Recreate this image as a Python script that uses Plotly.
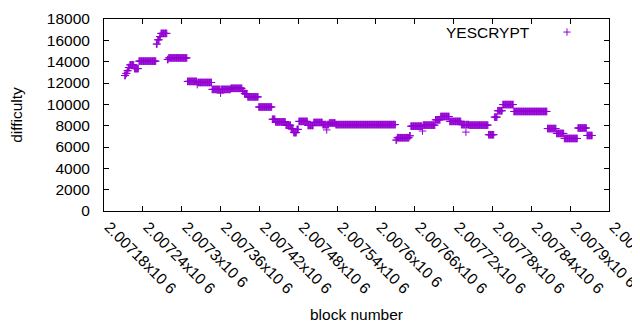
import numpy as np
import plotly.graph_objects as go

# Runs of constant difficulty: (first block, last block, difficulty)
run_start = [2007212, 2007214, 2007216, 2007218, 2007220, 2007227, 2007234, 2007261, 2007263, 2007266,
             2007268, 2007278, 2007280, 2007309, 2007324, 2007325, 2007347, 2007360, 2007361, 2007376,
             2007394, 2007397, 2007402, 2007419, 2007440, 2007445, 2007461, 2007469, 2007473, 2007478,
             2007481, 2007495, 2007504, 2007518, 2007524, 2007525, 2007528, 2007538, 2007631, 2007633,
             2007652, 2007654, 2007672, 2007673, 2007692, 2007700, 2007714, 2007732, 2007739, 2007740,
             2007744, 2007774, 2007783, 2007788, 2007796, 2007813, 2007865, 2007879, 2007891, 2007912,
             2007926]
run_end = [2007213, 2007215, 2007217, 2007219, 2007226, 2007233, 2007260, 2007262, 2007265, 2007267,
           2007277, 2007279, 2007308, 2007323, 2007324, 2007346, 2007359, 2007360, 2007375, 2007393,
           2007396, 2007401, 2007418, 2007439, 2007444, 2007460, 2007468, 2007472, 2007477, 2007480,
           2007494, 2007503, 2007517, 2007523, 2007524, 2007527, 2007537, 2007630, 2007632, 2007651,
           2007653, 2007671, 2007672, 2007691, 2007699, 2007713, 2007731, 2007738, 2007739, 2007743,
           2007773, 2007782, 2007787, 2007795, 2007812, 2007864, 2007878, 2007890, 2007911, 2007925,
           2007934]
run_difficulty = [12700, 12900, 13150, 13450, 13700, 13350, 14050, 15650, 16050, 16350,
                  16650, 14200, 14350, 12150, 11850, 12050, 11400, 11050, 11400, 11500,
                  11250, 11000, 10700, 9750, 8600, 8350, 8050, 7700, 7350, 7650,
                  8400, 8020, 8300, 8100, 7600, 8100, 8250, 8100, 6650, 6870,
                  7050, 7950, 7500, 8050, 8550, 8860, 8400, 8100, 7400, 8100,
                  8050, 7150, 8800, 9400, 9980, 9330, 7730, 7270, 6800, 7780,
                  7080]

x_tick_values = [2007180, 2007240, 2007300, 2007360, 2007420, 2007480, 2007540,
                 2007600, 2007660, 2007720, 2007780, 2007840, 2007900, 2007960]
x_tick_labels = ["2.00718x10 6", "2.00724x10 6", "2.0073x10 6", "2.00736x10 6",
                 "2.00742x10 6", "2.00748x10 6", "2.00754x10 6", "2.0076x10 6",
                 "2.00766x10 6", "2.00772x10 6", "2.00778x10 6", "2.00784x10 6",
                 "2.0079x10 6", "2.00796x10 6"]
y_tick_values = [0, 2000, 4000, 6000, 8000, 10000, 12000, 14000, 16000, 18000]
y_tick_labels = ["0", "2000", "4000", "6000", "8000", "10000", "12000", "14000", "16000", "18000"]
series_name = "YESCRYPT"

blocks, diffs = [], []
for s, e, d in zip(run_start, run_end, run_difficulty):
    for b in range(s, e + 1):
        blocks.append(b)
        diffs.append(d)

COLOR = "#9400D3"
FONT = "Liberation Sans, Arial, sans-serif"
FS = 15.5

fig = go.Figure()
fig.add_trace(go.Scatter(
    x=blocks, y=diffs, mode="markers", name=series_name, showlegend=False,
    marker=dict(symbol="cross-thin", size=5.4, color=COLOR,
                line=dict(color=COLOR, width=1)),
))

# legend (gnuplot style: text then sample)
fig.add_annotation(xref="paper", yref="paper", x=0.8475, y=0.932, text=series_name,
                   showarrow=False, xanchor="right", yanchor="middle",
                   font=dict(family=FONT, size=FS, color="black"))
cx, cy = 0.9168, 0.932
fig.add_shape(type="line", xref="paper", yref="paper", x0=cx - 0.0072, x1=cx + 0.0072,
              y0=cy, y1=cy, line=dict(color=COLOR, width=1))
fig.add_shape(type="line", xref="paper", yref="paper", x0=cx, x1=cx,
              y0=cy - 0.019, y1=cy + 0.019, line=dict(color=COLOR, width=1))

# page body has an 8px margin: figure is offset by 8px, so size/margins are adjusted
fig.update_layout(
    width=632, height=322,
    margin=dict(l=96, r=31, t=11, b=119, autoexpand=False),
    paper_bgcolor="white", plot_bgcolor="white",
    font=dict(family=FONT, size=FS, color="black"),
    showlegend=False,
)
fig.update_xaxes(
    range=[2007180, 2007960], tickmode="array", tickvals=x_tick_values, ticktext=x_tick_labels,
    tickangle=45, ticks="inside", ticklen=5, tickcolor="black",
    showline=True, linecolor="black", linewidth=1, mirror="ticks",
    showgrid=False, zeroline=False, automargin=False, ticklabeloverflow="allow",
    ticklabelshift=5,
    title=dict(text="block number", font=dict(family=FONT, size=FS), standoff=13),
)
fig.update_yaxes(
    range=[0, 18000], tickmode="array", tickvals=y_tick_values, ticktext=y_tick_labels,
    ticks="inside", ticklen=5, tickcolor="black",
    showline=True, linecolor="black", linewidth=1, mirror="ticks",
    showgrid=False, zeroline=False, ticklabelstandoff=10, automargin=False,
    title=dict(text="difficulty", font=dict(family=FONT, size=FS), standoff=24),
)

fig.write_html("out.html")
